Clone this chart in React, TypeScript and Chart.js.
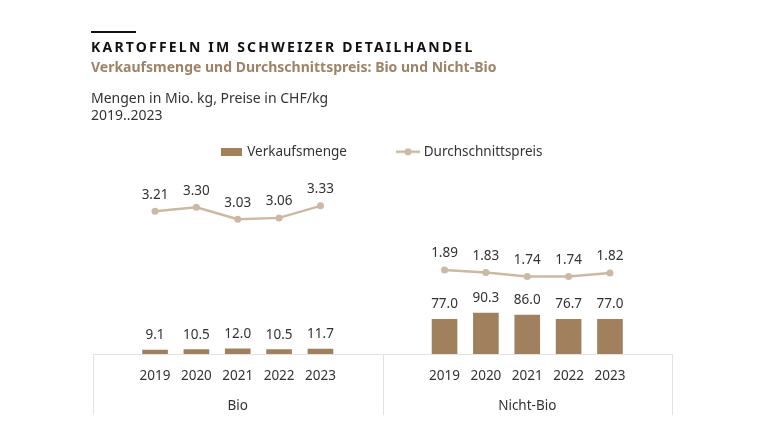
import React, { useEffect, useRef } from "react";
import { Chart, registerables } from "chart.js";

Chart.register(...registerables);

// ---- data ----
const years = ["2019", "2020", "2021", "2022", "2023"];
const groups = ["Bio", "Nicht-Bio"];
const bioVolume = [9.1, 10.5, 12.0, 10.5, 11.7];
const nichtBioVolume = [77.0, 90.3, 86.0, 76.7, 77.0];
const bioPrice = [3.21, 3.3, 3.03, 3.06, 3.33];
const nichtBioPrice = [1.89, 1.83, 1.74, 1.74, 1.82];

const BAR_COLOR = "#a0805d";
const LINE_COLOR = "#cbb9a3";
const TEXT_COLOR = "#333333";
const FONT = "'Noto Sans', 'Open Sans', sans-serif";

// build slot arrays: [blank, 5 years, blank] per group
function buildLabels(): (string | string[])[] {
  const out: (string | string[])[] = [];
  groups.forEach((g) => {
    out.push("");
    years.forEach((y, i) => out.push(i === 2 ? [y, g] : y));
    out.push("");
  });
  return out;
}
function buildSeries(a: number[], b: number[]): (number | null)[] {
  return [null, ...a, null, null, ...b, null];
}

const labels = buildLabels();
const volumeData = buildSeries(bioVolume, nichtBioVolume);
const priceData = buildSeries(bioPrice, nichtBioPrice);

function makeBarSwatch(): HTMLCanvasElement {
  const c = document.createElement("canvas");
  c.width = 21;
  c.height = 8;
  const ctx = c.getContext("2d")!;
  ctx.fillStyle = BAR_COLOR;
  ctx.fillRect(0, 0, 21, 8);
  return c;
}
function makeLineSwatch(): HTMLCanvasElement {
  const c = document.createElement("canvas");
  c.width = 24;
  c.height = 8;
  const ctx = c.getContext("2d")!;
  ctx.strokeStyle = LINE_COLOR;
  ctx.lineWidth = 2.5;
  ctx.beginPath();
  ctx.moveTo(0, 4);
  ctx.lineTo(24, 4);
  ctx.stroke();
  ctx.fillStyle = LINE_COLOR;
  ctx.beginPath();
  ctx.arc(12, 4, 3.5, 0, Math.PI * 2);
  ctx.fill();
  return c;
}

const valueLabelPlugin = {
  id: "valueLabels",
  afterDatasetsDraw(chart: any) {
    const ctx = chart.ctx;
    ctx.save();
    ctx.font = `13.5px ${FONT}`;
    ctx.fillStyle = TEXT_COLOR;
    ctx.textAlign = "center";
    ctx.textBaseline = "middle";
    chart.data.datasets.forEach((ds: any, di: number) => {
      const meta = chart.getDatasetMeta(di);
      meta.data.forEach((el: any, i: number) => {
        const v = ds.data[i];
        if (v === null || v === undefined) return;
        if (ds.type === "line") {
          ctx.fillText(v.toFixed(2), el.x, el.y - 16.5);
        } else {
          ctx.fillText(v.toFixed(1), el.x, el.y - 14.5);
        }
      });
    });
    ctx.restore();
  },
};

const panelLinesPlugin = {
  id: "panelLines",
  beforeDatasetsDraw(chart: any) {
    const { ctx, chartArea } = chart;
    const x = chart.scales.x;
    const bottom = chartArea.bottom;
    const mid = (x.getPixelForValue(6) + x.getPixelForValue(7)) / 2;
    ctx.save();
    ctx.strokeStyle = "#e2e2e2";
    ctx.lineWidth = 1;
    ctx.beginPath();
    ctx.moveTo(chartArea.left, bottom + 0.5);
    ctx.lineTo(chartArea.right, bottom + 0.5);
    [chartArea.left, mid, chartArea.right].forEach((px) => {
      const p = Math.round(px) + 0.5;
      ctx.moveTo(p, bottom);
      ctx.lineTo(p, bottom + 61);
    });
    ctx.stroke();
    ctx.restore();
  },
};

export default function App() {
  const canvasRef = useRef<HTMLCanvasElement | null>(null);

  useEffect(() => {
    document.body.style.margin = "0";
    if (!canvasRef.current) return;
    const barSwatch = makeBarSwatch();
    const lineSwatch = makeLineSwatch();
    const chart = new Chart(canvasRef.current, {
      type: "bar",
      data: {
        labels,
        datasets: [
          {
            type: "bar",
            label: "Verkaufsmenge",
            data: volumeData,
            backgroundColor: BAR_COLOR,
            yAxisID: "y",
            categoryPercentage: 1,
            barPercentage: 0.62,
          } as any,
          {
            type: "line",
            label: "Durchschnittspreis",
            data: priceData,
            borderColor: LINE_COLOR,
            backgroundColor: LINE_COLOR,
            borderWidth: 2.5,
            pointRadius: 3.5,
            pointBorderWidth: 0,
            pointBackgroundColor: LINE_COLOR,
            spanGaps: false,
            tension: 0,
            yAxisID: "y2",
          } as any,
        ],
      },
      options: {
        animation: false,
        responsive: true,
        maintainAspectRatio: false,
        layout: { padding: { top: 93, left: 93, right: 100, bottom: 9 } },
        plugins: {
          tooltip: { enabled: false },
          legend: {
            display: true,
            position: "top",
            labels: {
              usePointStyle: true,
              pointStyleWidth: 18,
              padding: 52,
              color: TEXT_COLOR,
              font: { family: FONT, size: 13.5 },
              generateLabels: () => [
                {
                  text: "Verkaufsmenge",
                  pointStyle: barSwatch,
                  fillStyle: BAR_COLOR,
                  strokeStyle: BAR_COLOR,
                  lineWidth: 0,
                  hidden: false,
                  datasetIndex: 0,
                  fontColor: TEXT_COLOR,
                } as any,
                {
                  text: "Durchschnittspreis",
                  pointStyle: lineSwatch,
                  fillStyle: LINE_COLOR,
                  strokeStyle: LINE_COLOR,
                  lineWidth: 0,
                  hidden: false,
                  datasetIndex: 1,
                  fontColor: TEXT_COLOR,
                } as any,
              ],
            },
          },
        },
        scales: {
          x: {
            type: "category",
            offset: true,
            grid: { display: false, drawTicks: false },
            border: { display: false },
            ticks: {
              autoSkip: false,
              maxRotation: 0,
              minRotation: 0,
              padding: 7,
              color: TEXT_COLOR,
              font: { family: FONT, size: 13.5, lineHeight: "30px" } as any,
            },
          },
          y: { display: false, min: 0, max: 407 },
          y2: { display: false, min: 0, max: 4.17, position: "right" },
        },
      },
      plugins: [valueLabelPlugin, panelLinesPlugin],
    });
    return () => chart.destroy();
  }, []);

  const base: React.CSSProperties = {
    position: "absolute",
    left: 91,
    fontFamily: FONT,
    whiteSpace: "nowrap",
    margin: 0,
  };

  return (
    <div style={{ position: "fixed", left: 0, top: 0, width: 772, height: 437, background: "#fff", overflow: "hidden" }}>
      <div style={{ position: "absolute", left: 0, top: 0, width: 772, height: 437 }}>
        <canvas ref={canvasRef} />
      </div>
      <div style={{ position: "absolute", left: 91, top: 30.5, width: 45, height: 2.5, background: "#111" }} />
      <div style={{ ...base, top: 37.8, fontSize: 14, lineHeight: "17px", fontWeight: 700, letterSpacing: "2.2px", color: "#111" }}>
        KARTOFFELN IM SCHWEIZER DETAILHANDEL
      </div>
      <div style={{ ...base, top: 58.4, fontSize: 14, lineHeight: "17px", fontWeight: 700, color: "#9e8466" }}>
        Verkaufsmenge und Durchschnittspreis: Bio und Nicht-Bio
      </div>
      <div style={{ ...base, top: 88.8, fontSize: 14, lineHeight: "17px", color: TEXT_COLOR }}>
        Mengen in Mio. kg, Preise in CHF/kg
      </div>
      <div style={{ ...base, top: 106, fontSize: 14, lineHeight: "17px", color: TEXT_COLOR }}>
        2019..2023
      </div>
    </div>
  );
}
